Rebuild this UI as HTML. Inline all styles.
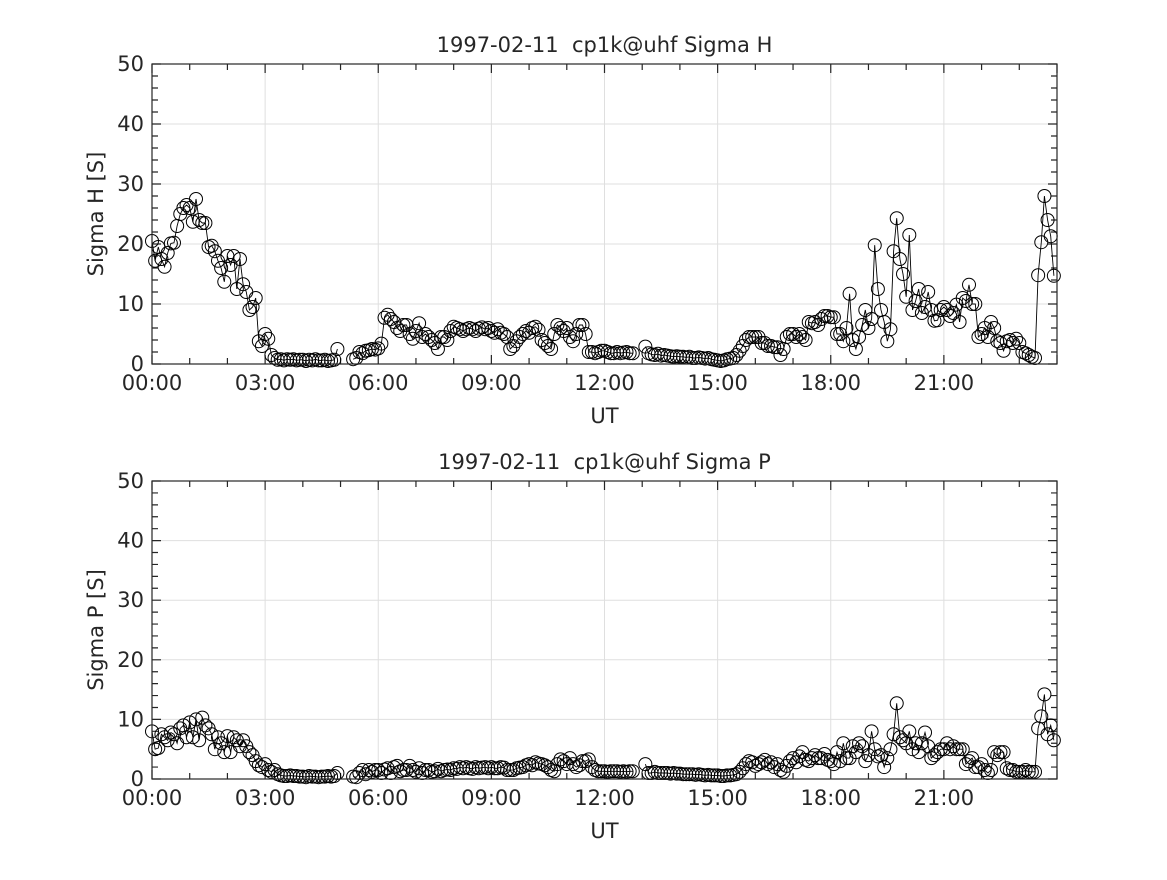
<!DOCTYPE html>
<html><head><meta charset="utf-8"><style>
body{margin:0;background:#fff}
svg text{font-family:"DejaVu Sans","Liberation Sans",sans-serif;fill:#262626}
</style></head><body>
<svg id="chart" width="1167" height="875" xmlns="http://www.w3.org/2000/svg"></svg>
<script>
// 5-minute samples (12 per hour), null = data gap
const sigmaH = [
20.5,17.2,19.5,17.5,16.2,18.5,20.1,20.2,23,25,26,26.5,
26,23.7,27.5,24,23.5,23.5,19.5,19.7,18.8,17.2,16,13.7,
18,16.5,18,12.5,17.5,13.3,12,9,9.5,11,3.8,3,
5,4.2,1.5,1,0.7,0.8,0.6,0.8,0.7,0.8,0.6,0.7,
0.7,0.5,0.7,0.6,0.8,0.6,0.6,0.7,0.5,0.6,0.7,2.5,
null,null,null,null,0.8,1,2,1.8,2.2,2.3,2.5,2.4,
2.6,3.4,7.7,8.2,7.5,7,6,5.5,6.5,6.5,5,4.2,
5.5,6.8,4.5,5,4.5,4,3.5,2.5,4.5,4.5,4,5.5,
6.2,6,5.8,5.5,5.8,6,5.8,5.5,5.9,6.1,5.8,6,
5.5,5.2,5.8,5.2,5,4.5,2.5,3,3.8,4.5,5,5.5,
5.2,6,6.2,5.7,4,3.5,3,2.5,5,6.5,6,5.5,
6,4.5,3.8,5,6.5,6.5,5,2,2,1.8,2,2.2,
2.2,2,1.8,1.8,2,1.8,1.9,2,1.8,1.8,null,null,
null,2.9,1.8,1.6,1.5,1.7,1.4,1.5,1.4,1.3,1.2,1.3,
1.2,1.2,1.1,1.2,1,1,1.1,1,0.9,1,0.8,0.7,
0.6,0.5,0.6,0.8,0.9,1,1.5,2.2,3,4,4.5,4.5,
4.5,4.5,3.5,3.5,3,3,2.8,2.8,1.5,2.5,4.5,5,
5,4.5,5,4.5,4,7,6.8,7,6.5,7.5,8,8,
7.8,7.8,5,5,3.8,6,11.7,4,2.5,4.5,6.5,9,
6,7.5,19.8,12.5,9,7,3.8,5.8,18.8,24.3,17.5,15,
11.2,21.5,9,10.5,12.5,8.5,9.5,12,9,7.2,7.3,9,
9.5,9,8,8.5,9.9,7,11,10.5,13.2,10,10,4.5,
5,6,4.5,7,6,3.8,3.5,2.2,3.8,4,3.5,4.2,
3.5,2,1.8,1.5,1.2,1,14.8,20.3,28,24,21.3,14.7];
const sigmaP = [
8,5,5.2,7.5,7,6.5,7.8,7.5,6,8.5,9,7,
9.5,7,10,6.5,10.3,9,8.5,7.5,5,7,6,4.5,
7.2,4.5,7,6.5,5.5,6.5,5.5,4.5,4,3,2.3,2,
2.5,1.5,1.2,1.5,0.8,0.6,0.5,0.5,0.6,0.5,0.5,0.4,
0.4,0.3,0.5,0.4,0.4,0.3,0.4,0.4,0.5,0.4,0.5,1,
null,null,null,null,0.4,0.3,1,1.5,0.8,1.5,1.2,1.5,
1.5,1,1.6,1.8,1,2,2.2,1.3,1.5,1.5,2.2,1.5,
1.2,1.8,1,1.5,1.5,1.2,1.3,1.7,1.3,1.5,1.6,1.5,
1.8,1.7,2,1.8,2,1.8,1.7,2,1.8,1.9,2,1.8,
2,1.8,1.8,2,1.9,1.5,1.5,1.5,1.8,1.9,2,2.3,
2.5,2.3,2.8,2.6,2.5,2.3,2,1.5,1.3,2.5,3.3,3,
2.5,3.5,2.5,2,2.3,3,3,3.3,2,1.5,1.3,1.3,
1.3,1.2,1.3,1.3,1.3,1.2,1.3,1.2,1.3,1.3,null,null,
null,2.5,1,1,1.2,1,1,1,1,0.9,1,0.9,
0.9,0.8,0.8,0.8,0.8,0.7,0.8,0.7,0.6,0.7,0.6,0.6,
0.6,0.5,0.5,0.6,0.6,0.7,0.8,1.2,1.8,2.5,3,2.8,
2.2,2.5,2.8,3.2,2.5,2.8,2,2.5,1.5,1.2,2.2,3,
3.5,2.8,3.8,4.5,3.2,3,3.5,4,3.5,3.5,4.2,3.2,
3,2.5,4.5,3,6,3.5,3.5,5.5,4.5,6,5.5,3,
4,8,5,3.8,4,2,3.5,5,7.5,12.7,7,6.5,
6,8,5,6,4.5,6,7.8,5.5,3.5,4,4.5,5,
5,6,5,5.5,5,5,5,2.5,3,3.5,2,2,
2.5,1.5,1,1.5,4.5,4,4.5,4.5,1.8,1.5,1.5,1.2,
1.2,1.2,1.5,1.2,1.2,1.2,8.5,10.5,14.2,7.5,9,6.5];
const xTickLabels = ["00:00","03:00","06:00","09:00","12:00","15:00","18:00","21:00"];
const yTickValues = [0,10,20,30,40,50];

const NS="http://www.w3.org/2000/svg";
const svg=document.getElementById('chart');
function mk(tag,attrs,parent){const e=document.createElementNS(NS,tag);for(const k in attrs)e.setAttribute(k,attrs[k]);(parent||svg).appendChild(e);return e;}
const X0=152,X1=1057;
function xs(h){return X0+(X1-X0)*h/24;}

function panel(top,bottom,data,title,ylabel,key){
  const g=mk('g',{});
  
  
  const ys=v=>bottom-(bottom-top)*v/50;
  for(let i=1;i<8;i++){const l=mk('line',{x1:xs(i*3),x2:xs(i*3),y1:top,y2:bottom,stroke:'#dfdfdf','stroke-width':1},g);
    }
  yTickValues.forEach(v=>{if(v>0&&v<50){const l=mk('line',{x1:X0,x2:X1,y1:ys(v),y2:ys(v),stroke:'#dfdfdf','stroke-width':1},g);
    }});
  let d='';
  for(let h=0;h<=24;h++){const L=(h%3==0)?9:6;const x=xs(h);d+=`M${x},${bottom}v${-L}M${x},${top}v${L}`;}
  for(let v=0;v<=50;v+=2){const L=(v%10==0)?9:6;const y=ys(v);d+=`M${X0},${y}h${L}M${X1},${y}h${-L}`;}
  const t=mk('path',{d:d,stroke:'#262626','stroke-width':1.2,fill:'none'},g);
  
  let p='';let pen=false;
  data.forEach((v,i)=>{if(v===null){pen=false;return;}const x=xs(i/12),y=ys(v);p+=(pen?'L':'M')+x.toFixed(1)+','+y.toFixed(1);pen=true;});
  const ln=mk('path',{d:p,stroke:'#000','stroke-width':0.9,fill:'none'},g);
  
  data.forEach((v,i)=>{if(v===null)return;const c=mk('circle',{cx:xs(i/12),cy:ys(v),r:6.5,fill:'none',stroke:'#000','stroke-width':1},g);
    });
  const b=mk('rect',{x:X0,y:top,width:X1-X0,height:bottom-top,fill:'none',stroke:'#262626','stroke-width':1.2},g);
  
  xTickLabels.forEach((s,i)=>{const tx=mk('text',{x:xs(i*3),y:bottom+26,'text-anchor':'middle','font-size':21},g);tx.textContent=s;
    });
  yTickValues.forEach(v=>{const tx=mk('text',{x:X0-8,y:ys(v)+7,'text-anchor':'end','font-size':21},g);tx.textContent=v;
    });
  const ti=mk('text',{x:(X0+X1)/2,y:top-12,'text-anchor':'middle','font-size':21},g);ti.textContent=title;
  
  const xl=mk('text',{x:(X0+X1)/2,y:bottom+59,'text-anchor':'middle','font-size':21},g);xl.textContent='UT';
  
  const cy=(top+bottom)/2;
  const yl=mk('text',{x:103,y:cy,'text-anchor':'middle','font-size':21,transform:`rotate(-90 103 ${cy})`},g);yl.textContent=ylabel;
  
}
panel(64,364,sigmaH,'1997-02-11\u00a0 cp1k@uhf Sigma H','Sigma H [S]','sigma-h');
panel(481,779,sigmaP,'1997-02-11\u00a0 cp1k@uhf Sigma P','Sigma P [S]','sigma-p');
</script>
</body></html>
